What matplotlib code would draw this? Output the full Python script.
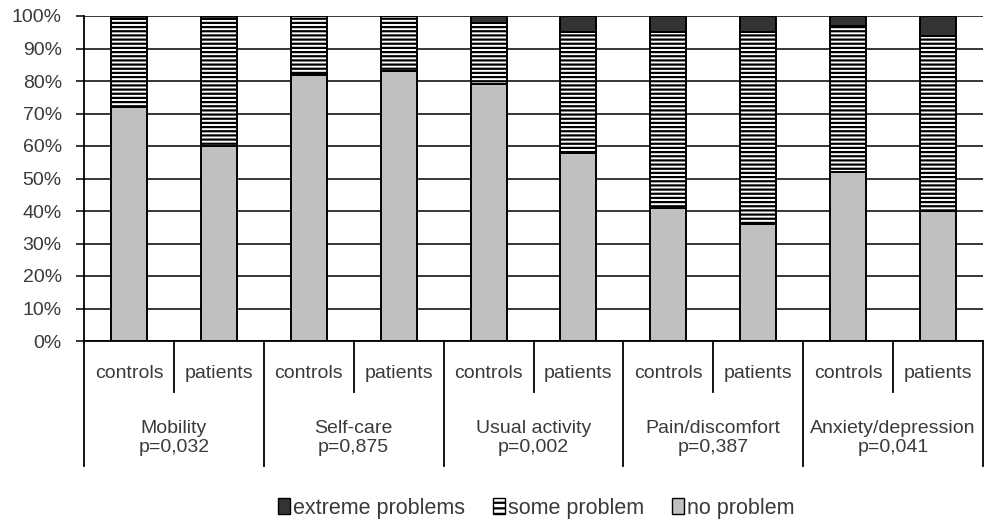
import matplotlib
matplotlib.use("Agg")
import matplotlib.pyplot as plt
from matplotlib.patches import Patch
import numpy as np

plt.rcParams['font.family'] = ['Liberation Sans', 'DejaVu Sans']
plt.rcParams['hatch.linewidth'] = 1.6
plt.rcParams['hatch.color'] = 'black'

groups = ["Mobility\np=0,032", "Self-care\np=0,875", "Usual activity\np=0,002",
          "Pain/discomfort\np=0,387", "Anxiety/depression\np=0,041"]
subgroups = ["controls", "patients"]
no_problem = [72, 60, 82, 83, 79, 58, 41, 36, 52, 40]
extreme_problems = [1, 1, 0, 0, 2, 5, 5, 5, 3, 6]
some_problem = [100 - a - b for a, b in zip(no_problem, extreme_problems)]
yticks = [0, 10, 20, 30, 40, 50, 60, 70, 80, 90, 100]
ytick_labels = [f"{v}%" for v in yticks]

txt = '#3a3a3a'
fig = plt.figure(figsize=(9.84, 5.26), dpi=100)
ax = fig.add_axes([84/984, 185/526, 899/984, 325/526])

x = np.arange(len(no_problem))
w = 0.4
ax.bar(x, no_problem, w, color='#c0c0c0', edgecolor='black', linewidth=1.4, zorder=3)
ax.bar(x, some_problem, w, bottom=no_problem, color='white', edgecolor='black',
       hatch='----', linewidth=1.4, zorder=3)
ax.bar(x, extreme_problems, w, bottom=np.array(no_problem) + np.array(some_problem),
       color='#333333', edgecolor='black', linewidth=1.4, zorder=3)

ax.set_xlim(-0.5, 9.5)
ax.set_ylim(0, 100)
ax.set_yticks(yticks)
ax.set_yticklabels(ytick_labels, fontsize=14, color=txt)
ax.tick_params(axis='y', length=6, width=1.1, color='black', pad=10)
ax.set_xticks([])
ax.yaxis.grid(True, color='black', linewidth=1.1)
ax.set_axisbelow(True)
for s in ['top', 'right']:
    ax.spines[s].set_visible(False)
ax.spines['left'].set_linewidth(1.3)
ax.spines['bottom'].set_linewidth(1.3)

tr = ax.get_xaxis_transform()
# dividers
for i in range(len(groups)):
    xs = 2 * i + 0.5
    ax.plot([xs, xs], [0, -0.157], transform=tr, color='black', lw=1.3, clip_on=False)
for i in range(len(groups) + 1):
    xl = 2 * i - 0.5
    ax.plot([xl, xl], [0, -0.385], transform=tr, color='black', lw=1.3, clip_on=False)

for i in range(len(no_problem)):
    ax.text(i, -0.1015, subgroups[i % 2], transform=tr, ha='center', va='center',
            fontsize=14, color=txt)
for i, g in enumerate(groups):
    ax.text(2 * i + 0.5, -0.298, g, transform=tr, ha='center', va='center',
            fontsize=14, color=txt, linespacing=1.1)

handles = [Patch(facecolor='#333333', edgecolor='black'),
           Patch(facecolor='white', edgecolor='black', hatch='---'),
           Patch(facecolor='#c0c0c0', edgecolor='black')]
labels = ["extreme problems", "some problem", "no problem"]
fig.legend(handles, labels, loc='center', bbox_to_anchor=(0.545, 0.034), ncol=3,
           frameon=False, fontsize=15.5, handlelength=0.55, handleheight=0.75,
           handletextpad=0.15, columnspacing=1.3, labelcolor=txt)

fig.savefig("out.png", dpi=100)
